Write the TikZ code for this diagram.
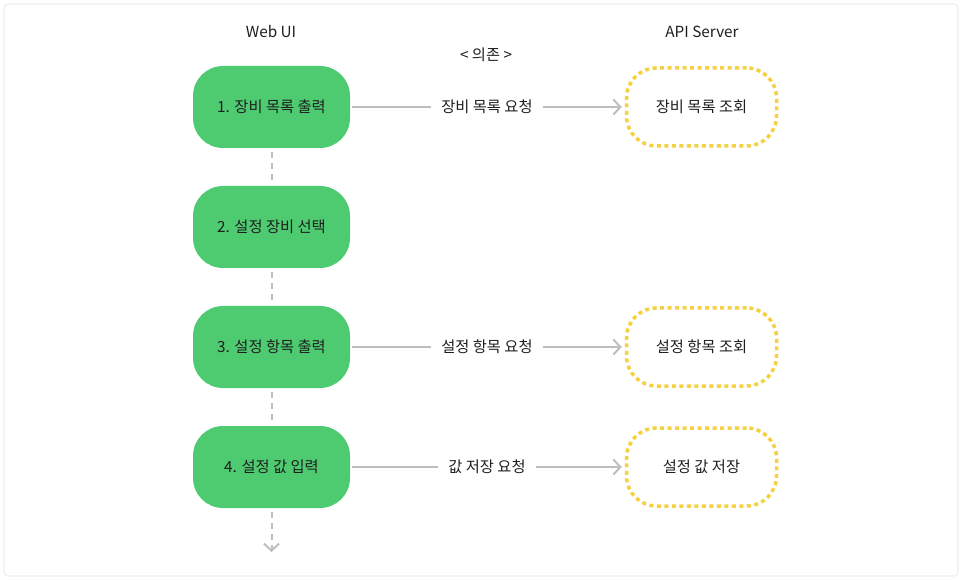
\documentclass[tikz,border=0pt]{standalone}
\usepackage{fontspec}
\setmainfont{Noto Sans CJK KR}
\usetikzlibrary{arrows.meta}
\definecolor{gfill}{RGB}{78,203,113}
\definecolor{ydash}{RGB}{245,208,64}
\definecolor{lgray}{RGB}{190,190,190}
\definecolor{txt}{RGB}{30,30,30}
\definecolor{frame}{RGB}{238,238,238}
\tikzset{
  x=1pt, y=1pt,
  stepbox/.style={draw=none, fill=gfill, rounded corners=30pt, minimum width=157pt, minimum height=82pt, text=txt, font=\fontsize{15.3}{17}\selectfont, inner sep=0pt},
  apibox/.style={draw=ydash, line width=3.5pt, dash pattern=on 4pt off 3.5pt, rounded corners=30pt, minimum width=150pt, minimum height=78pt, text=txt, font=\fontsize{15.3}{17}\selectfont, inner sep=0pt},
  req/.style={draw=lgray, line width=2pt, -{Straight Barb[length=7pt,width=15pt,line width=2pt]}},
  reqlabel/.style={fill=white, text=txt, font=\fontsize{15.3}{17}\selectfont, inner xsep=10pt, inner ysep=4pt},
  flow/.style={draw=lgray, line width=2pt, dash pattern=on 6pt off 5pt},
  head/.style={text=txt, font=\fontsize{15.3}{17}\selectfont},
}
\begin{document}
\begin{tikzpicture}
\useasboundingbox (0,0) rectangle (962,-580);
\draw[frame, line width=1.2pt, rounded corners=4pt] (4,-4) rectangle (958,-576);

\node[head] (hweb) at (271,-32) {Web UI};
\node[head] (hapi) at (702,-32) {API Server};
\node[head] (hdep) at (486,-55) {< 의존 >};

\node[stepbox] (s1) at (271.5,-107) {1. 장비 목록 출력};
\node[stepbox] (s2) at (271.5,-227) {2. 설정 장비 선택};
\node[stepbox] (s3) at (271.5,-347) {3. 설정 항목 출력};
\node[stepbox] (s4) at (271.5,-467) {4. 설정 값 입력};

\node[apibox] (a1) at (701.5,-107) {장비 목록 조회};
\node[apibox] (a3) at (701.5,-347) {설정 항목 조회};
\node[apibox] (a4) at (701.5,-467) {설정 값 저장};

\draw[req] ([xshift=2pt]s1.east) -- node[reqlabel] {장비 목록 요청} ([xshift=-3pt]a1.west);
\draw[req] ([xshift=2pt]s3.east) -- node[reqlabel] {설정 항목 요청} ([xshift=-3pt]a3.west);
\draw[req] ([xshift=2pt]s4.east) -- node[reqlabel] {값 저장 요청} ([xshift=-3pt]a4.west);

\draw[flow] ([yshift=-4pt]s1.south) -- ([yshift=4pt]s2.north);
\draw[flow] ([yshift=-4pt]s2.south) -- ([yshift=4pt]s3.north);
\draw[flow] ([yshift=-4pt]s3.south) -- ([yshift=4pt]s4.north);
\coordinate (endp) at (271.5,-552);
\draw[flow] ([yshift=-4pt]s4.south) -- (endp);
\draw[lgray, line width=2pt, -{Straight Barb[length=7pt,width=15pt,line width=2pt]}] ([yshift=2pt]endp) -- (endp);
\end{tikzpicture}
\end{document}
